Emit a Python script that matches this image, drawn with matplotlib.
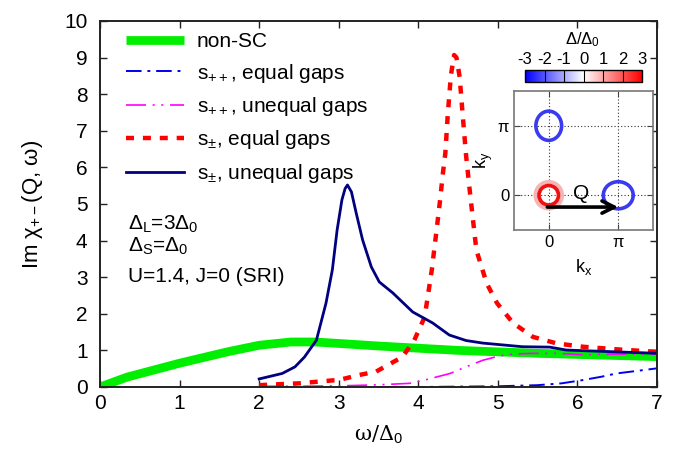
import numpy as np
import matplotlib
matplotlib.use("Agg")
import matplotlib.pyplot as plt
from matplotlib.patches import Ellipse
from matplotlib.cm import ScalarMappable
from matplotlib.colors import Normalize

plt.rcParams['font.family'] = ['Liberation Sans', 'DejaVu Sans']
plt.rcParams['mathtext.fontset'] = 'custom'
plt.rcParams['mathtext.rm'] = 'Liberation Sans'
plt.rcParams['mathtext.it'] = 'Liberation Sans'
plt.rcParams['mathtext.sf'] = 'Liberation Sans'

# ---------------- data ----------------
nonsc_w = [0.0, 0.34, 1.0, 1.6, 2.0, 2.4, 2.7, 3.0, 3.5, 4.0, 4.5, 5.0, 5.5, 6.0, 6.5, 7.0]
nonsc_v = [0.0, 0.27, 0.65, 0.96, 1.14, 1.23, 1.23, 1.19, 1.12, 1.06, 1.00, 0.96, 0.92, 0.89, 0.86, 0.83]

spp_eq_w = [3.5, 4.0, 4.5, 5.0, 5.5, 5.8, 6.07, 6.3, 6.49, 6.75, 7.0]
spp_eq_v = [0.0, 0.0, 0.01, 0.02, 0.05, 0.10, 0.19, 0.28, 0.37, 0.44, 0.51]

spp_uneq_w = [2.0, 2.5, 3.0, 3.5, 3.89, 4.1, 4.4, 4.6, 4.81, 5.02, 5.2, 5.44, 5.74, 6.07, 6.5, 7.0]
spp_uneq_v = [0.02, 0.02, 0.03, 0.06, 0.10, 0.20, 0.37, 0.55, 0.73, 0.85, 0.90, 0.92, 0.92, 0.88, 0.90, 0.90]

spm_eq_w = [2.0, 2.29, 2.5, 2.92, 3.0, 3.26, 3.47, 3.6, 3.8, 3.95, 4.08, 4.17, 4.23, 4.27, 4.31,
            4.34, 4.37, 4.41, 4.45, 4.48, 4.52, 4.56, 4.6, 4.65, 4.73, 4.86, 4.99, 5.19, 5.44,
            5.74, 6.07, 6.49, 7.0]
spm_eq_v = [0.05, 0.08, 0.10, 0.18, 0.19, 0.33, 0.42, 0.58, 0.82, 1.28, 1.91, 3.2, 4.29, 5.03, 5.85,
            6.39, 7.43, 8.52, 9.07, 9.0, 8.47, 7.38, 6.34, 5.3, 3.74, 2.83, 2.29, 1.75, 1.37,
            1.19, 1.10, 1.03, 0.96]

spm_uneq_w = [2.0, 2.29, 2.45, 2.57, 2.72, 2.84, 2.92, 2.98, 3.04, 3.08, 3.11, 3.16, 3.22, 3.30,
              3.41, 3.51, 3.68, 3.93, 4.18, 4.39, 4.6, 4.81, 5.06, 5.31, 5.65, 5.86, 6.1, 6.49, 7.0]
spm_uneq_v = [0.22, 0.37, 0.55, 0.82, 1.28, 2.29, 3.2, 4.29, 5.11, 5.42, 5.52, 5.33, 4.75, 4.02,
              3.28, 2.87, 2.57, 2.05, 1.75, 1.42, 1.27, 1.2, 1.15, 1.1, 1.09, 1.01, 0.99, 0.96, 0.92]

labels = ["non-SC", r"s$_{++}$, equal gaps", r"s$_{++}$, unequal gaps",
          r"s$_{\pm}$, equal gaps", r"s$_{\pm}$, unequal gaps"]

x_ticks = [0, 1, 2, 3, 4, 5, 6, 7]
y_ticks = [0, 1, 2, 3, 4, 5, 6, 7, 8, 9, 10]

# inset: Fermi pockets (centre kx, ky in units of pi; radii in units of pi)
pocket_cx = [0.0, 1.0]
pocket_cy = [1.0, 0.0]
pocket_rx = [0.185, 0.215]
pocket_ry = [0.21, 0.195]
gamma_r = 0.14
gamma_halo_r = 0.175
cbar_ticks = [-3, -2, -1, 0, 1, 2, 3]

FS = 15

# ---------------- figure ----------------
fig = plt.figure(figsize=(6.82, 4.51), dpi=100)
ax = fig.add_axes([100/682, 1-387/451, 557/682, 366/451])

ax.plot(nonsc_w, nonsc_v, color='#00ee00', lw=6.3, solid_capstyle='butt', label=labels[0])
ax.plot(spp_eq_w, spp_eq_v, color='#0000ee', lw=1.4, dashes=(8, 3, 1.5, 3), label=labels[1])
ax.plot(spp_uneq_w, spp_uneq_v, color='#ff00ff', lw=1.2, dashes=(12, 4, 1.2, 4, 1.2, 4), label=labels[2])
ax.plot(spm_eq_w, spm_eq_v, color='#ff0000', lw=3.2, dashes=(1.8, 2.0), label=labels[3])
ax.plot(spm_uneq_w, spm_uneq_v, color='#000080', lw=2.0, label=labels[4])

ax.set_xlim(0, 7)
ax.set_ylim(0, 10)
ax.set_xticks(x_ticks)
ax.set_yticks(y_ticks)
ax.tick_params(direction='in', top=True, right=True, length=5, width=1, labelsize=FS, color='#222222')
ax.tick_params(axis='x', pad=5)
ax.tick_params(axis='y', pad=9)
for s in ax.spines.values():
    s.set_linewidth(1.4)
    s.set_color('#222222')

ax.set_xlabel(r"ω/Δ$_0$", fontsize=FS, family=['DejaVu Serif'], labelpad=8)
ax.set_ylabel(r"Im χ$_{+-}$(Q, ω)", fontsize=FS + 1, labelpad=14)

leg = ax.legend(loc='upper left', bbox_to_anchor=(0.03, 0.995), frameon=False, fontsize=FS,
                handlelength=2.8, handletextpad=0.6, labelspacing=0.5, borderaxespad=0.25,
                borderpad=0.2)

ax.text(0.35, 4.29, r"Δ$_{\mathrm{L}}$=3Δ$_0$", fontsize=FS)
ax.text(0.35, 3.69, r"Δ$_{\mathrm{S}}$=Δ$_0$", fontsize=FS)
ax.text(0.35, 2.87, "U=1.4, J=0 (SRI)", fontsize=FS)

# ---------------- inset ----------------
ins = fig.add_axes([514/682, 1-230/451, 139/682, 139/451])
ins.set_xlim(-0.5, 1.5)
ins.set_ylim(-0.5, 1.5)
ins.set_xticks([0, 1])
ins.set_yticks([0, 1])
ins.set_xticklabels(['0', 'π'])
ins.set_yticklabels(['0', 'π'])
ins.tick_params(direction='in', top=True, right=True, length=4, labelsize=12, color='#444444')
ins.grid(True, ls=(0, (1, 2)), color='#333333', lw=0.8)
for s in ins.spines.values():
    s.set_color('#777777')
    s.set_linewidth(1.2)
ins.set_xlabel(r"k$_{\mathrm{x}}$", fontsize=13, labelpad=5)
ins.set_ylabel(r"k$_{\mathrm{y}}$", fontsize=13, labelpad=2)

ins.add_patch(Ellipse((0, 0), 2*gamma_halo_r, 2*gamma_halo_r, fill=False, ec='#f5b5b5', lw=4.5, zorder=3))
ins.add_patch(Ellipse((0, 0), 2*gamma_r, 2*gamma_r, fill=False, ec='#ee1111', lw=2.6, zorder=4))
for cx, cy, rx, ry in zip(pocket_cx, pocket_cy, pocket_rx, pocket_ry):
    ins.add_patch(Ellipse((cx, cy), 2*rx, 2*ry, fill=False, ec='#3a3aee', lw=2.6, zorder=4))

ins.annotate('', xy=(1.0, -0.17), xytext=(-0.02, -0.17),
             arrowprops=dict(arrowstyle='->', lw=2.6, color='black', mutation_scale=22,
                             shrinkA=0, shrinkB=0), zorder=5)
ins.text(0.47, 0.02, 'Q', fontsize=FS, ha='center', va='center', zorder=5)

# colour bar
cax = fig.add_axes([525/682, 1-82/451, 117/682, 12/451])
sm = ScalarMappable(norm=Normalize(-3, 3), cmap='bwr')
cb = fig.colorbar(sm, cax=cax, orientation='horizontal', ticks=cbar_ticks)
cax.xaxis.set_ticks_position('top')
cax.xaxis.set_label_position('top')
cax.tick_params(length=0, labelsize=12, pad=2)
cb.outline.set_linewidth(1.0)
for t in cbar_ticks[1:-1]:
    cax.axvline(t, color='black', lw=0.8)
cax.set_xticklabels(['-3', '-2', '-1', '0', '1', '2', '3'])
fig.text(583/682, 1-40/451, r"Δ/Δ$_0$", fontsize=12, ha='center', va='center')

fig.savefig('out.png', dpi=100)
